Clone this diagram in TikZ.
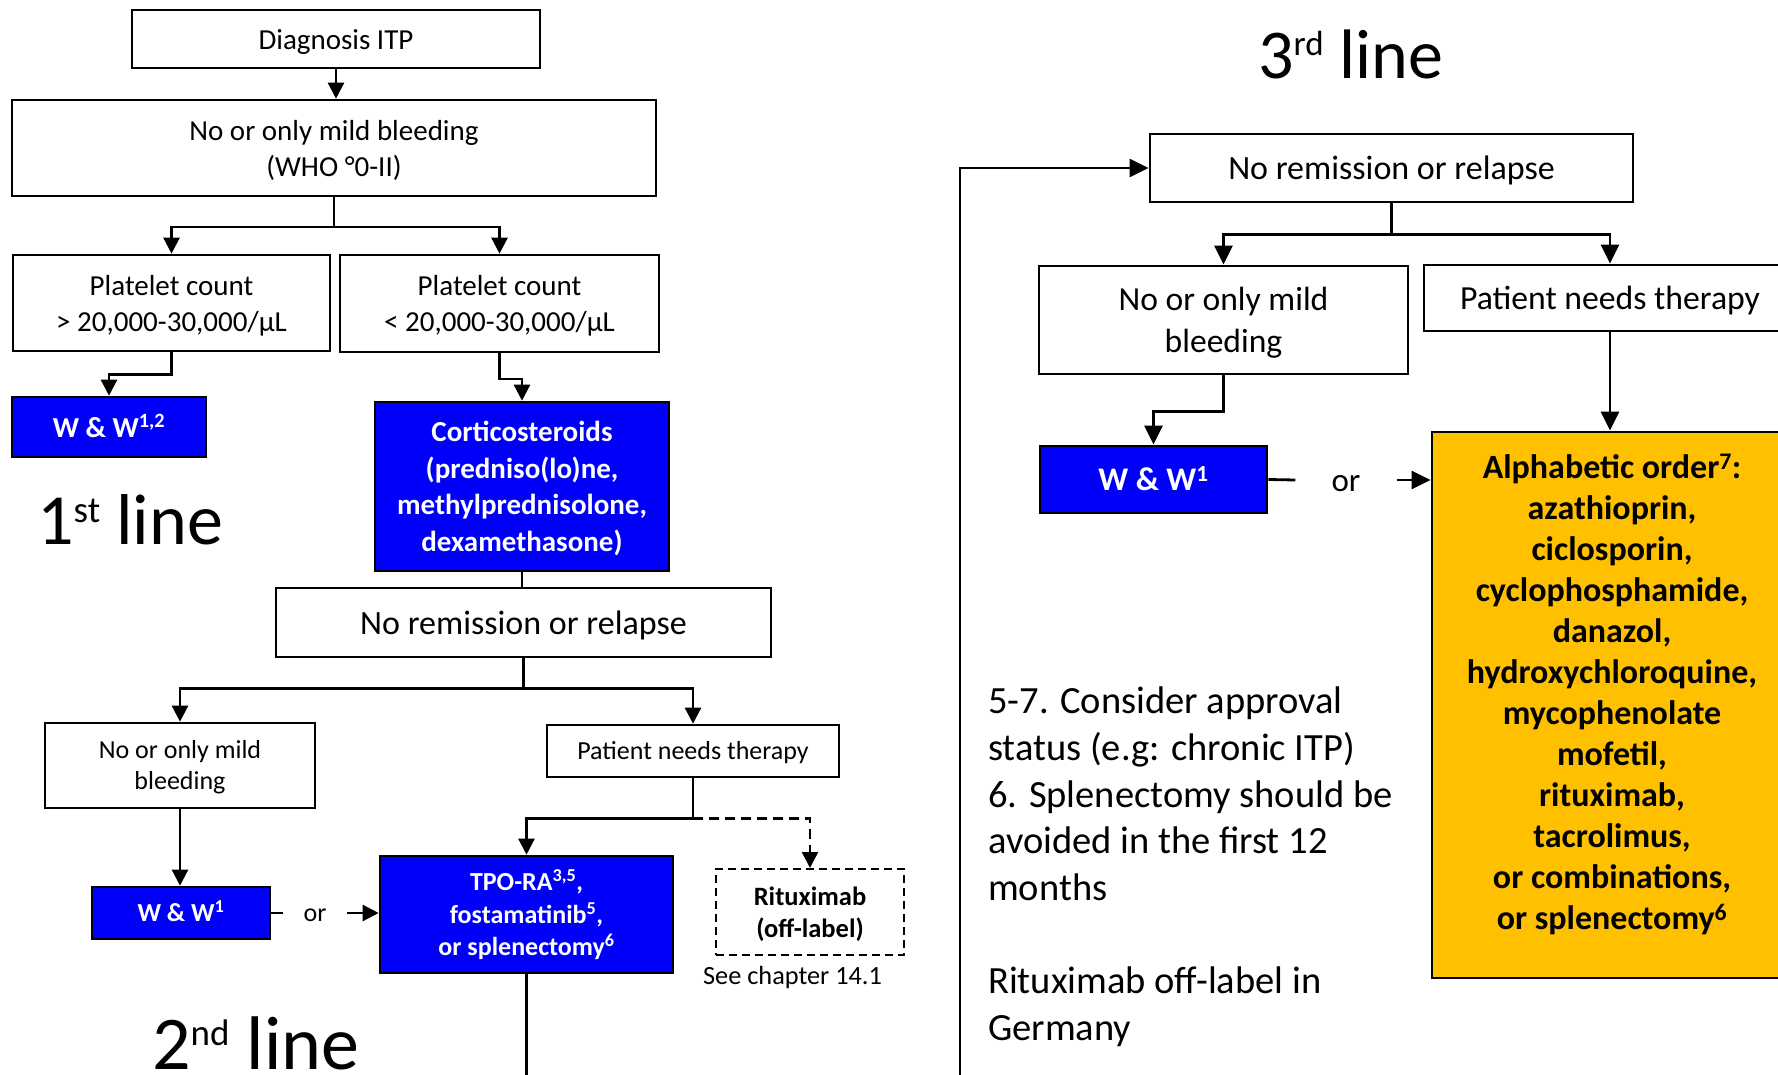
\documentclass[tikz,border=0pt]{standalone}
\usepackage{fontspec}
\setmainfont{Carlito}
\usetikzlibrary{arrows.meta}
\definecolor{boxblue}{RGB}{0,0,250}
\definecolor{gold}{RGB}{255,192,0}
\newcommand{\setfs}[2]{\fontsize{#1}{#2}\selectfont}
\newcommand{\bigsup}[3]{\raisebox{#1pt}{\fontsize{#2}{#2}\selectfont #3}}
\newcommand{\topst}{\rule{0pt}{1em}}
\newcommand{\botst}{\rule[-0.31em]{0pt}{0.31em}}
\begin{document}
\begin{tikzpicture}[x=1pt,y=-1pt,
  box/.style={draw=black, line width=2.6pt, inner sep=0pt, align=center, fill=white},
  rbox/.style={box, line width=2.9pt},
  bluebox/.style={box, fill=boxblue, text=white},
  rbluebox/.style={rbox, fill=boxblue, text=white},
  dashbox/.style={draw=black, line width=2pt, dash pattern=on 8pt off 5pt, inner sep=0pt, align=center},
  conn/.style={line width=2.4pt},
  rconn/.style={line width=2.8pt},
  arrL/.style={conn, -{Triangle[width=16pt,length=16pt]}},
  arrR/.style={rconn, -{Triangle[width=18pt,length=19pt]}},
  dasharr/.style={arrL, dash pattern=on 10pt off 6pt},
  plain/.style={inner sep=0pt, align=center},
  big/.style={inner sep=0pt, anchor=base west, text depth=0pt},
]
\clip (0,0) rectangle (1778,1075);
\fill[white] (0,0) rectangle (1778,1075);

% ---------- 1st line ----------
\node[box, minimum width=408pt, minimum height=58pt, font=\setfs{29}{36}] (diag) at (336,39) {\topst Diagnosis ITP\botst};
\node[box, minimum width=644pt, minimum height=96pt, font=\setfs{29}{36}] (bleed1) at (334,148) {\topst No or only mild bleeding\\(WHO °0-II)\botst};
\node[box, minimum width=317pt, minimum height=96pt, font=\setfs{29}{36}] (plt1) at (171.5,303) {\topst Platelet count\\> 20,000-30,000/µL\botst};
\node[box, minimum width=319pt, minimum height=97pt, font=\setfs{29}{36}] (plt2) at (499.5,303.5) {\topst Platelet count\\< 20,000-30,000/µL\botst};
\node[bluebox, minimum width=194pt, minimum height=60pt, font=\bfseries\setfs{29}{36}] (ww12) at (109,427) {\topst W \& W\textsuperscript{1,2}\botst};
\node[bluebox, minimum width=294pt, minimum height=169pt, font=\bfseries\setfs{29}{36.6}] (cortico) at (522,486.5) {\topst Corticosteroids\\(predniso(lo)ne,\\methylprednisolone,\\dexamethasone)\botst};
\node[big, font=\setfs{72}{80}] (first) at (37,544) {1\bigsup{22}{37}{st} line};

\draw[arrL] (diag.south) -- (diag.south |- bleed1.north);
\draw[conn] (bleed1.south) -- ++(0,30) coordinate (j1);
\draw[arrL] (j1) -| (plt1.north);
\draw[arrL] (j1) -| (plt2.north);
\draw[arrL] (plt1.south) -- ++(0,22) -| (ww12.north);
\draw[arrL] (plt2.south) -- ++(0,25.5) -| (cortico.north);

% ---------- 2nd line ----------
\node[box, minimum width=495pt, minimum height=69pt, font=\setfs{34}{40}] (norem1) at (523.5,622.5) {\topst No remission or relapse\botst};
\node[box, minimum width=270pt, minimum height=85pt, font=\setfs{26}{31}] (mild2) at (180,765.5) {\topst No or only mild\\bleeding\botst};
\node[box, minimum width=292pt, minimum height=52pt, font=\setfs{26}{31}] (needs2) at (693,751) {\topst Patient needs therapy\botst};
\node[bluebox, minimum width=178pt, minimum height=52pt, font=\bfseries\setfs{26}{31}] (ww1) at (181,913) {\topst W \& W\textsuperscript{1}\botst};
\node[bluebox, minimum width=293pt, minimum height=117pt, font=\bfseries\setfs{26}{32.5}] (tpo) at (526.5,914.5) {\topst TPO-RA\textsuperscript{3,5},\\fostamatinib\textsuperscript{5},\\or splenectomy\textsuperscript{6}\botst};
\node[dashbox, minimum width=188pt, minimum height=86pt, font=\bfseries\setfs{26.5}{32}] (ritux) at (810,912) {\topst Rituximab\\(off-label)\botst};
\node[plain, font=\setfs{26.3}{31}] (see) at (792.5,977) {See chapter 14.1};
\node[plain, inner xsep=20pt, font=\setfs{26}{31}] (or1) at (315,913) {\topst or\botst};
\node[big, font=\setfs{76}{84}] (second) at (152,1069) {2\bigsup{24}{37}{nd} line};

\draw[conn] (cortico.south) -- (cortico.south |- norem1.north);
\draw[conn] (norem1.south) -- ++(0,30) coordinate (j2);
\draw[arrL] (j2) -| (mild2.north);
\draw[arrL] (j2) -| (needs2.north);
\draw[arrL] (mild2.south) -- (mild2.south |- ww1.north);
\draw[conn] (ww1.east) -- (or1.west);
\draw[arrL] (or1.east) -- (or1.east -| tpo.west);
\draw[conn] (needs2.south) -- ++(0,40) coordinate (j3);
\draw[arrL] (j3) -| (tpo.north);
\draw[dasharr] (j3) -| (ritux.north);
\coordinate (bot2) at (526.5,1085);
\draw[conn] (tpo.south) -- (bot2);

% ---------- 3rd line ----------
\node[big, font=\setfs{70}{78}] (third) at (1258,79) {3\bigsup{23}{35}{rd} line};
\node[rbox, minimum width=483pt, minimum height=68pt, font=\setfs{34}{40}] (norem3) at (1391.5,168) {\topst No remission or relapse\botst};
\node[rbox, minimum width=369pt, minimum height=108pt, font=\setfs{33.6}{42}] (mild3) at (1223.5,320) {\topst No or only mild\\bleeding\botst};
\node[rbox, minimum width=372pt, minimum height=66pt, font=\setfs{33.7}{40}] (needs3) at (1610,298) {\topst Patient needs therapy\botst};
\node[rbluebox, minimum width=227pt, minimum height=67pt, font=\bfseries\setfs{33}{40}] (ww3) at (1153.5,479.5) {\topst W \& W\textsuperscript{1}\botst};
\node[rbox, fill=gold, minimum width=360pt, minimum height=546pt] (yel) at (1612,705) {};
\node[plain, font=\bfseries\setfs{34}{41}] (yeltxt) at (1612,694) {Alphabetic order\textsuperscript{7}:\\azathioprin,\\ciclosporin,\\cyclophosphamide,\\danazol,\\hydroxychloroquine,\\mycophenolate\\mofetil,\\rituximab,\\tacrolimus,\\or combinations,\\or splenectomy\textsuperscript{6}};
\node[plain, inner xsep=36pt, font=\setfs{33}{40}] (or3) at (1346,480) {\topst or\botst};
\node[inner sep=0pt, anchor=north west, align=left, font=\setfs{38.5}{46.6}] (note) at (988,687) {5-7. Consider approval\\status (e.g: chronic ITP)\\6. Splenectomy should be\\avoided in the first 12\\months\\\mbox{}\\Rituximab off-label in\\Germany};

\coordinate (fb) at (960,1085);
\draw[arrR] (fb) |- (norem3.west);
\draw[rconn] (norem3.south) -- ++(0,31) coordinate (j4);
\draw[arrR] (j4) -| (mild3.north);
\draw[arrR] (j4) -| (needs3.north);
\draw[arrR] (mild3.south) -- ++(0,36) -| (ww3.north);
\draw[rconn] (ww3.east) -- (or3.west);
\draw[arrR] (or3.east) -- (or3.east -| yel.west);
\draw[arrR] (needs3.south) -- (needs3.south |- yel.north);
\end{tikzpicture}
\end{document}
